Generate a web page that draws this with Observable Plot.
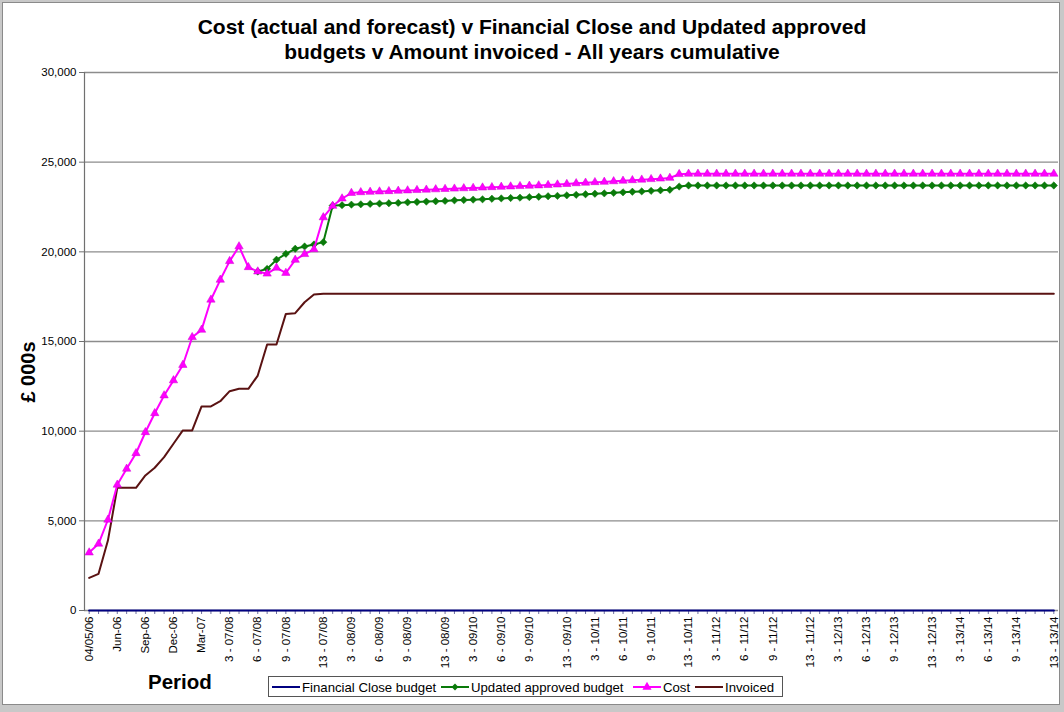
<!DOCTYPE html>
<html>
<head>
<meta charset="utf-8">
<script src="https://cdn.jsdelivr.net/npm/d3@7"></script>
<script src="https://cdn.jsdelivr.net/npm/@observablehq/plot@0.6"></script>
<style>
  html, body { margin: 0; padding: 0; background: #fff; }
  body { font-family: "Liberation Sans", Arial, sans-serif; }
  #wrap { position: relative; width: 1064px; height: 712px; overflow: hidden; background: #c8c8c8; }
  #chartbox { position: absolute; left: 2px; top: 2px; width: 1056px; height: 701px; background: #fff; border: 1.5px solid #8a8a8a; }
  #plot { position: absolute; left: 0; top: 0; }
  #title { position: absolute; left: 0; width: 1064px; top: 14px; text-align: center; font: bold 21px "Liberation Sans", Arial, sans-serif; line-height: 25px; color: #000; }
  #ylab { position: absolute; left: 28px; top: 372px; transform: translate(-50%, -50%) rotate(-90deg); font: bold 20px "Liberation Sans", Arial, sans-serif; white-space: nowrap; color: #000; }
  #xlab { position: absolute; left: 148px; top: 670px; font: bold 20.5px "Liberation Sans", Arial, sans-serif; color: #000; }
  #legend { position: absolute; left: 268px; top: 676px; }
</style>
</head>
<body>
<div id="wrap">
  <div id="chartbox"></div>
  <div id="plot"></div>
  <div id="title">Cost (actual and forecast) v Financial Close and Updated approved<br>budgets v Amount invoiced - All years cumulative</div>
  <div id="ylab">£ 000s</div>
  <div id="xlab">Period</div>
  <div id="legend"></div>
</div>
<script>
// ---- Categories (x axis) ----
const months = ["04/05/06","Apr-06","May-06","Jun-06","Jul-06","Aug-06","Sep-06","Oct-06","Nov-06","Dec-06","Jan-07","Feb-07","Mar-07"];
const years = ["07/08","08/09","09/10","10/11","11/12","12/13","13/14"];
const periods = [1,2,3,4,5,6,7,8,9,10,11,12,13];
const categories = months.concat(years.flatMap(y => periods.map(p => `${p} - ${y}`)));

// ---- Tick labels shown on the x axis ----
const tickLabels = ["04/05/06","Jun-06","Sep-06","Dec-06","Mar-07",
  "3 - 07/08","6 - 07/08","9 - 07/08","13 - 07/08",
  "3 - 08/09","6 - 08/09","9 - 08/09","13 - 08/09",
  "3 - 09/10","6 - 09/10","9 - 09/10","13 - 09/10",
  "3 - 10/11","6 - 10/11","9 - 10/11","13 - 10/11",
  "3 - 11/12","6 - 11/12","9 - 11/12","13 - 11/12",
  "3 - 12/13","6 - 12/13","9 - 12/13","13 - 12/13",
  "3 - 13/14","6 - 13/14","9 - 13/14","13 - 13/14"];

const yTicks = [0, 5000, 10000, 15000, 20000, 25000, 30000];

// ---- Series values (£ 000s) ----
const financialClose = [
  0,0,0,0,0,0,0,0,0,0,0,0,0,
  0,0,0,0,0,0,0,0,0,0,0,0,0,
  0,0,0,0,0,0,0,0,0,0,0,0,0,
  0,0,0,0,0,0,0,0,0,0,0,0,0,
  0,0,0,0,0,0,0,0,0,0,0,0,0,
  0,0,0,0,0,0,0,0,0,0,0,0,0,
  0,0,0,0,0,0,0,0,0,0,0,0,0,
  0,0,0,0,0,0,0,0,0,0,0,0,0];

const updatedBudget = [
  null,null,null,null,null,null,null,null,null,null,null,null,null,
  null,null,null,null,null,18900,19050,19560,19890,20170,20300,20410,20540,
  22580,22600,22630,22650,22670,22690,22710,22730,22760,22780,22800,22820,22840,
  22870,22890,22910,22930,22960,22980,23000,23020,23050,23070,23100,23120,23150,
  23180,23210,23240,23260,23290,23320,23350,23370,23400,23430,23460,23640,23700,
  23700,23700,23700,23700,23700,23700,23700,23700,23700,23700,23700,23700,23700,
  23700,23700,23700,23700,23700,23700,23700,23700,23700,23700,23700,23700,23700,
  23700,23700,23700,23700,23700,23700,23700,23700,23700,23700,23700,23700,23700];

const cost = [
  3230,3720,5060,7010,7900,8770,9940,11000,11990,12830,13690,15240,15650,
  17330,18440,19480,20300,19140,18900,18780,19110,18820,19550,19870,20140,21920,
  22560,22970,23280,23320,23340,23360,23380,23400,23420,23440,23460,23480,23500,
  23520,23540,23560,23580,23600,23620,23640,23660,23680,23700,23720,23750,23780,
  23820,23850,23880,23900,23930,23960,23990,24020,24050,24080,24120,24330,24350,
  24350,24350,24350,24350,24350,24350,24350,24350,24350,24350,24350,24350,24350,
  24350,24350,24350,24350,24350,24350,24350,24350,24350,24350,24350,24350,24350,
  24350,24350,24350,24350,24350,24350,24350,24350,24350,24350,24350,24350,24350];

const invoiced = [
  1820,2045,3900,6840,6840,6840,7530,7960,8550,9300,10040,10040,11380,
  11380,11670,12230,12360,12360,13100,14830,14830,16540,16580,17190,17620,17660,
  17660,17660,17660,17660,17660,17660,17660,17660,17660,17660,17660,17660,17660,
  17660,17660,17660,17660,17660,17660,17660,17660,17660,17660,17660,17660,17660,
  17660,17660,17660,17660,17660,17660,17660,17660,17660,17660,17660,17660,17660,
  17660,17660,17660,17660,17660,17660,17660,17660,17660,17660,17660,17660,17660,
  17660,17660,17660,17660,17660,17660,17660,17660,17660,17660,17660,17660,17660,
  17660,17660,17660,17660,17660,17660,17660,17660,17660,17660,17660,17660,17660];

const seriesNames = ["Financial Close budget","Updated approved budget","Cost","Invoiced"];
const seriesColors = ["#000080","#0a7a0a","#ff00ff","#5a1212"];

const rows = categories.map((c, i) => ({
  cat: c, fc: financialClose[i], ub: updatedBudget[i], cost: cost[i], inv: invoiced[i]
}));
const ubRows = rows.filter(d => d.ub != null);

const chart = Plot.plot({
  width: 1064,
  height: 712,
  marginTop: 72,
  marginLeft: 84,
  marginRight: 6,
  marginBottom: 102,
  style: { fontFamily: "'Liberation Sans', Arial, sans-serif", fontSize: "11.5px", color: "#000", background: "transparent", overflow: "visible" },
  x: { type: "point", domain: categories, padding: 0.5 },
  y: { domain: [0, 30000] },
  marks: [
    Plot.gridY(yTicks, { stroke: "#8c8c8c", strokeOpacity: 1, strokeWidth: 1.3 }),
    Plot.frame({ anchor: "left", stroke: "#707070", strokeWidth: 1.2 }),
    Plot.axisY({ ticks: yTicks, tickFormat: d3.format(","), tickSize: 5, tickPadding: 3, label: null, stroke: "#707070" }),
    Plot.axisX({ ticks: categories, tickSize: 4, tickFormat: () => "", label: null, stroke: "#7070a0" }),
    Plot.axisX({ ticks: tickLabels, tickSize: 0, tickRotate: -90, tickPadding: 6, label: null }),
    Plot.line(rows, { x: "cat", y: "inv", stroke: seriesColors[3], strokeWidth: 2 }),
    Plot.line(ubRows, { x: "cat", y: "ub", stroke: seriesColors[1], strokeWidth: 2 }),
    Plot.dot(ubRows, { x: "cat", y: "ub", symbol: "diamond2", r: 3.3, fill: seriesColors[1], stroke: seriesColors[1], strokeWidth: 0.5 }),
    Plot.line(rows, { x: "cat", y: "cost", stroke: seriesColors[2], strokeWidth: 2 }),
    Plot.dot(rows, { x: "cat", y: "cost", symbol: "triangle", r: 3.1, fill: seriesColors[2], stroke: "#d000d0", strokeWidth: 0.5 }),
    Plot.line(rows, { x: "cat", y: "fc", stroke: seriesColors[0], strokeWidth: 2.2 })
  ]
});
document.getElementById("plot").appendChild(chart);

// ---- Legend ----
const lw = 515, lh = 21;
const leg = d3.select("#legend").append("svg").attr("width", lw).attr("height", lh)
  .style("font-family", "'Liberation Sans', Arial, sans-serif").style("font-size", "13.2px");
leg.append("rect").attr("x", 0.5).attr("y", 0.5).attr("width", lw - 1).attr("height", lh - 1)
  .attr("fill", "#fff").attr("stroke", "#555");
const itemX = [4, 173, 365, 427];
seriesNames.forEach((name, k) => {
  const x0 = itemX[k];
  leg.append("line").attr("x1", x0).attr("x2", x0 + 28).attr("y1", 11).attr("y2", 11)
    .attr("stroke", seriesColors[k]).attr("stroke-width", 2);
  if (k === 1) {
    leg.append("path").attr("d", d3.symbol(d3.symbolDiamond2, 30)()).attr("transform", `translate(${x0 + 14},11)`).attr("fill", seriesColors[k]);
  }
  if (k === 2) {
    leg.append("path").attr("d", d3.symbol(d3.symbolTriangle, 36)()).attr("transform", `translate(${x0 + 14},11)`).attr("fill", seriesColors[k]);
  }
  leg.append("text").attr("x", x0 + 30).attr("y", 15.5).attr("fill", "#000").text(name);
});
</script>
</body>
</html>
